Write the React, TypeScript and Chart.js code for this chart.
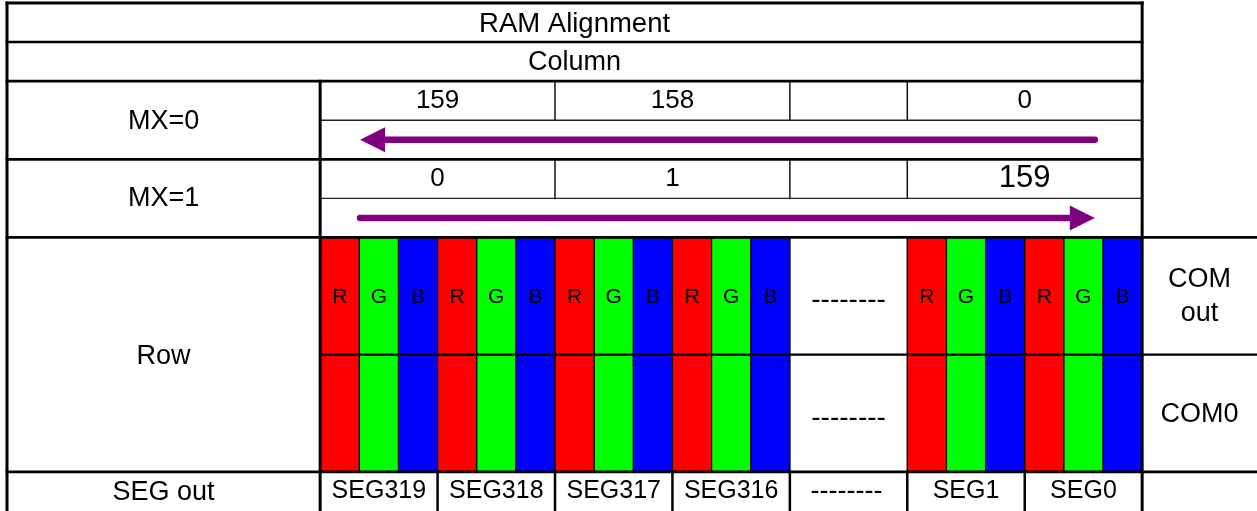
import { useEffect, useRef } from "react";
import { Chart, registerables } from "chart.js";

Chart.register(...registerables);

// ---------------- data ----------------
const TITLE = "RAM Alignment";
const SUBTITLE = "Column";
const MODE_LABELS = ["MX=0", "MX=1"];
const MX0_ADDRESSES = ["159", "158", "", "0"];
const MX1_ADDRESSES = ["0", "1", "", "159"];
const ADDRESS_PIXEL_SPANS = [2, 2, 1, 2]; // how many RGB pixels each address cell covers
const SEG_LABELS = ["SEG319", "SEG318", "SEG317", "SEG316", "--------", "SEG1", "SEG0"];
const GAP_MARK = "--------";
const SUBPIXEL_NAMES = ["R", "G", "B"];
const SUBPIXEL_COLORS = ["#ff0000", "#00ff00", "#0000ff"];
const ROW_LABEL = "Row";
const SEG_ROW_LABEL = "SEG out";
const COM_LABELS = [["COM", "out"], ["COM0"]];

// ---------------- derived datasets ----------------
type Bar = { x: number; y: [number, number]; name: string };
const topBars: Bar[] = [];
const bottomBars: Bar[] = [];
const barColors: string[] = [];
SEG_LABELS.forEach((label, g) => {
  if (label === GAP_MARK) return;
  SUBPIXEL_NAMES.forEach((name, k) => {
    const x = g * 3 + k + 0.5;
    topBars.push({ x, y: [6, 9], name });
    bottomBars.push({ x, y: [9, 12], name: "" });
    barColors.push(SUBPIXEL_COLORS[k]);
  });
});

const SUB_COUNT = SEG_LABELS.length * 3; // 21 subpixel slots
const LABEL_COL = -8;
const FONT = '"Liberation Sans", Arial, Helvetica, sans-serif';
const TEXT_SHIFT = 1.5;

const diagramPlugin = {
  id: "diagram",
  afterDatasetsDraw(chart: any) {
    const { ctx, chartArea } = chart;
    const xs = chart.scales.x;
    const ys = chart.scales.y;
    const X = (v: number) => xs.getPixelForValue(v);
    const Y = (v: number) => ys.getPixelForValue(v);
    const RIGHT = xs.max;

    const line = (x0: number, y0: number, x1: number, y1: number, w: number, c = "#000") => {
      ctx.save();
      ctx.strokeStyle = c;
      ctx.lineWidth = w;
      ctx.lineCap = "square";
      ctx.beginPath();
      ctx.moveTo(X(x0), Y(y0));
      ctx.lineTo(X(x1), Y(y1));
      ctx.stroke();
      ctx.restore();
    };
    const hl = (y: number, a: number, b: number, w: number, c?: string) => line(a, y, b, y, w, c);
    const vl = (x: number, a: number, b: number, w: number, c?: string) => line(x, a, x, b, w, c);

    // address header separators (thin)
    let pos = 0;
    ADDRESS_PIXEL_SPANS.slice(0, -1).forEach((s) => {
      pos += s * 3;
      vl(pos, 2, 3, 1.5, "#111");
      vl(pos, 4, 5, 1.5, "#111");
    });
    hl(3, 0, SUB_COUNT, 1.4, "#222");
    hl(5, 0, SUB_COUNT, 1.4, "#222");

    // gap region borders
    const gapIndex = SEG_LABELS.indexOf(GAP_MARK);
    vl(gapIndex * 3, 6, 12, 1.5);
    vl(gapIndex * 3 + 3, 6, 12, 1.5);

    // SEG row separators
    for (let g = 1; g < SEG_LABELS.length; g++) vl(g * 3, 12, 13, 2.5);

    // middle COM split
    hl(9, 0, RIGHT, 2.2);

    // thick frame
    hl(0, LABEL_COL, SUB_COUNT, 3);
    hl(1, LABEL_COL, SUB_COUNT, 2.5);
    hl(2, LABEL_COL, SUB_COUNT, 2.7);
    hl(4, LABEL_COL, SUB_COUNT, 2.7);
    hl(6, LABEL_COL, RIGHT, 2.7);
    hl(12, LABEL_COL, RIGHT, 2.7);
    vl(LABEL_COL, 0, 13, 3);
    vl(0, 2, 13, 3);
    vl(SUB_COUNT, 0, 13, 3);

    // arrows
    const ARROW_FROM = 1.02;
    const ARROW_TO = 19.79;
    const purple = "#800080";
    const headLen = 25;
    const headHalf = 12.5;
    const drawArrow = (yRow: number, leftward: boolean) => {
      const yy = Y(yRow);
      const a = X(ARROW_FROM);
      const b = X(ARROW_TO);
      const tip = leftward ? a : b;
      const tail = leftward ? b : a;
      const base = leftward ? tip + headLen : tip - headLen;
      ctx.save();
      ctx.strokeStyle = purple;
      ctx.fillStyle = purple;
      ctx.lineWidth = 6.5;
      ctx.lineCap = "round";
      ctx.beginPath();
      ctx.moveTo(tail, yy);
      ctx.lineTo(base, yy);
      ctx.stroke();
      ctx.beginPath();
      ctx.moveTo(tip, yy);
      ctx.lineTo(base, yy - headHalf);
      ctx.lineTo(base, yy + headHalf);
      ctx.closePath();
      ctx.fill();
      ctx.restore();
    };
    drawArrow(3.5, true);
    drawArrow(5.5, false);

    // texts
    ctx.save();
    ctx.fillStyle = "#000";
    ctx.textAlign = "center";
    ctx.textBaseline = "middle";
    const text = (s: string, cx: number, cy: number, size: number, dy = -1) => {
      ctx.font = `${size}px ${FONT}`;
      ctx.fillText(s, cx, cy + dy + TEXT_SHIFT);
    };
    const midX = (a: number, b: number) => (X(a) + X(b)) / 2;

    text(TITLE, midX(LABEL_COL, SUB_COUNT), Y(0.5), 27.5, 0);
    text(SUBTITLE, midX(LABEL_COL, SUB_COUNT), Y(1.5), 27);
    text(MODE_LABELS[0], midX(LABEL_COL, 0), Y(3), 27, -0.5);
    text(MODE_LABELS[1], midX(LABEL_COL, 0), Y(5), 27, -1);

    let start = 0;
    ADDRESS_PIXEL_SPANS.forEach((s, i) => {
      const end = start + s * 3;
      const cx = midX(start, end);
      if (MX0_ADDRESSES[i]) text(MX0_ADDRESSES[i], cx, Y(2.5), 26, -1.5);
      const big = i === ADDRESS_PIXEL_SPANS.length - 1;
      if (MX1_ADDRESSES[i]) text(MX1_ADDRESSES[i], cx, Y(4.5), big ? 31 : 26, -1.5);
      start = end;
    });

    text(ROW_LABEL, midX(LABEL_COL, 0), Y(9), 27, 0);
    text(SEG_ROW_LABEL, midX(LABEL_COL, 0), Y(12.5), 27, -0.5);

    // RGB letters at the bars
    const meta = chart.getDatasetMeta(0);
    meta.data.forEach((el: any, i: number) => {
      text(topBars[i].name, el.x, Y(7.5), 21, 0);
    });

    // SEG labels
    SEG_LABELS.forEach((label, g) => {
      const cx = midX(g * 3, g * 3 + 3);
      if (label === GAP_MARK) {
        text(label, cx - 2, Y(12.5), 27, -1.5);
        text(label, cx, Y(7.5), 28, 2.5);
        text(label, cx, Y(10.5), 28, 3);
      } else {
        text(label, cx, Y(12.5), 25, -1.5);
      }
    });

    // COM labels
    const comX = (X(SUB_COUNT) + chartArea.right) / 2;
    text(COM_LABELS[0][0], comX, Y(7.5), 27, -18);
    text(COM_LABELS[0][1], comX, Y(7.5), 27, 16);
    text(COM_LABELS[1][0], comX, Y(10.5), 27, -0.5);
    ctx.restore();
  },
};

export default function App() {
  const ref = useRef<HTMLCanvasElement | null>(null);

  useEffect(() => {
    document.body.style.margin = "0";
    if (!ref.current) return;
    const barBase = {
      backgroundColor: barColors,
      borderColor: "#000",
      borderWidth: 1,
      borderSkipped: false as const,
      grouped: false,
      categoryPercentage: 1,
      barPercentage: 1,
    };
    const chart = new Chart(ref.current, {
      type: "bar",
      data: {
        datasets: [
          { label: "COM out", data: topBars as any, ...barBase },
          { label: "COM0", data: bottomBars as any, ...barBase },
        ],
      },
      options: {
        responsive: false,
        animation: false,
        devicePixelRatio: 1,
        layout: { padding: { left: 7, top: 3, right: 0, bottom: 0 } },
        scales: {
          x: { type: "linear", min: LABEL_COL, max: 23.934, display: false, offset: false },
          y: { type: "linear", min: 0, max: 13, reverse: true, display: false, offset: false },
        },
        plugins: { legend: { display: false }, tooltip: { enabled: false } },
      },
      plugins: [diagramPlugin],
    });
    return () => chart.destroy();
  }, []);

  return (
    <div style={{ width: 1257, height: 511, background: "#fff" }}>
      <canvas ref={ref} width={1257} height={511} style={{ display: "block" }} />
    </div>
  );
}
